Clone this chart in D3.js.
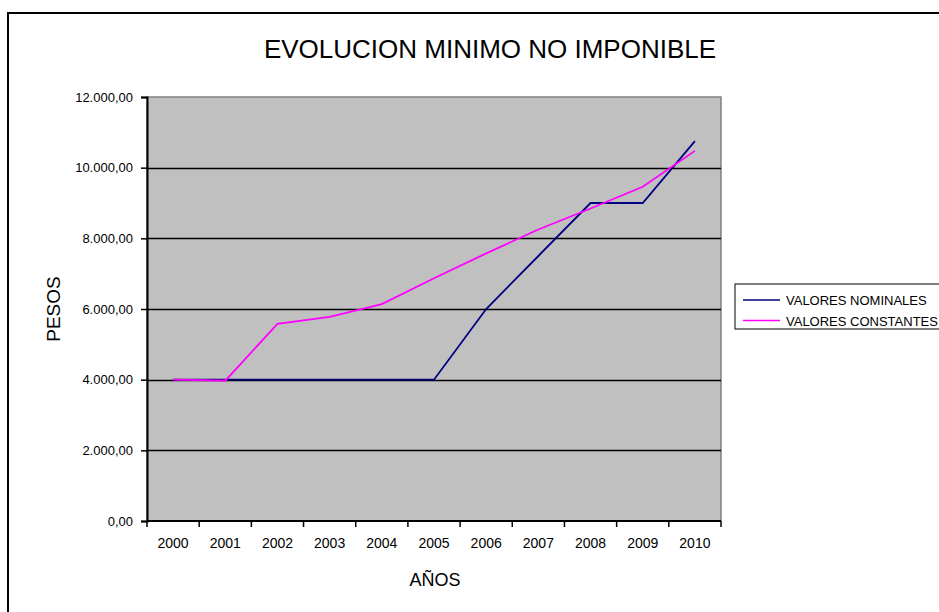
<!DOCTYPE html>
<html>
<head>
<meta charset="utf-8">
<script src="https://cdn.jsdelivr.net/npm/d3@7"></script>
<style>
  body { margin: 0; background: #fff; }
  svg { display: block; font-family: "Liberation Sans", Arial, sans-serif; }
</style>
</head>
<body>
<svg width="939" height="612"></svg>
<script>
var years = ["2000", "2001", "2002", "2003", "2004", "2005", "2006", "2007", "2008", "2009", "2010"];
var nominales = [4000, 4000, 4000, 4000, 4000, 4000, 6000, 7500, 9000, 9000, 10750];
var constantes = [4000, 3970, 5580, 5780, 6140, 6870, 7575, 8250, 8845, 9460, 10475];
var yTicks = [0, 2000, 4000, 6000, 8000, 10000, 12000];
var seriesNames = ["VALORES NOMINALES", "VALORES CONSTANTES"];
var seriesColors = ["#000080", "#ff00ff"];

var svg = d3.select("svg");

var plotL = 147, plotR = 721, plotT = 97, plotB = 521;

var x = d3.scaleBand().domain(years).range([plotL, plotR]);
var y = d3.scaleLinear().domain([0, 12000]).range([plotB, plotT]);

var fmt = function(v) {
  var s = d3.format(",.2f")(v);
  return s.replace(/,/g, "#").replace(".", ",").replace(/#/g, ".");
};

// outer chart frame
svg.append("rect")
  .attr("x", 8).attr("y", 13)
  .attr("width", 1000).attr("height", 1000)
  .attr("fill", "none").attr("stroke", "#000").attr("stroke-width", 2);

// plot area
svg.append("rect")
  .attr("x", plotL).attr("y", plotT)
  .attr("width", plotR - plotL).attr("height", plotB - plotT)
  .attr("fill", "#c0c0c0").attr("stroke", "#808080").attr("stroke-width", 1.5);

// gridlines
svg.append("g").selectAll("line")
  .data(yTicks.filter(function(d) { return d > 0 && d < 12000; }))
  .join("line")
  .attr("x1", plotL).attr("x2", plotR)
  .attr("y1", function(d) { return Math.round(y(d)) + 0.5; })
  .attr("y2", function(d) { return Math.round(y(d)) + 0.5; })
  .attr("stroke", "#000").attr("stroke-width", 1.5);

// y axis
var yAxis = svg.append("g")
  .attr("transform", "translate(" + plotL + ",0)")
  .call(d3.axisLeft(y).tickValues(yTicks).tickFormat(fmt).tickSize(6).tickPadding(8));
yAxis.select(".domain").attr("stroke", "#000").attr("stroke-width", 2);
yAxis.selectAll(".tick line").attr("stroke", "#000").attr("stroke-width", 1.5);
yAxis.selectAll("text").attr("font-size", 13).attr("fill", "#000")
  .attr("font-family", "'Liberation Sans', Arial, sans-serif");

// x axis: ticks between categories
var bounds = years.map(function(d) { return x(d); }).concat([plotR]);
svg.append("line")
  .attr("x1", plotL).attr("x2", plotR)
  .attr("y1", plotB).attr("y2", plotB)
  .attr("stroke", "#000").attr("stroke-width", 2);
svg.append("g").selectAll("line")
  .data(bounds)
  .join("line")
  .attr("x1", function(d) { return d; }).attr("x2", function(d) { return d; })
  .attr("y1", plotB).attr("y2", plotB + 6)
  .attr("stroke", "#000").attr("stroke-width", 1.5);
svg.append("g").selectAll("text")
  .data(years)
  .join("text")
  .attr("x", function(d) { return x(d) + x.bandwidth() / 2; })
  .attr("y", 548)
  .attr("text-anchor", "middle")
  .attr("font-size", 14)
  .text(function(d) { return d; });

// lines
var line = d3.line()
  .x(function(d, i) { return x(years[i]) + x.bandwidth() / 2; })
  .y(function(d) { return y(d); });

[nominales, constantes].forEach(function(vals, i) {
  svg.append("path")
    .datum(vals)
    .attr("d", line)
    .attr("fill", "none")
    .attr("stroke", seriesColors[i])
    .attr("stroke-width", 1.8);
});

// titles
svg.append("text")
  .attr("x", 490).attr("y", 58)
  .attr("text-anchor", "middle")
  .attr("font-size", 26)
  .text("EVOLUCION MINIMO NO IMPONIBLE");

svg.append("text")
  .attr("transform", "translate(60,309) rotate(-90)")
  .attr("text-anchor", "middle")
  .attr("font-size", 19)
  .text("PESOS");

svg.append("text")
  .attr("x", 435).attr("y", 586)
  .attr("text-anchor", "middle")
  .attr("font-size", 18)
  .text("AÑOS");

// legend
var legend = svg.append("g");
legend.append("rect")
  .attr("x", 735).attr("y", 284)
  .attr("width", 210).attr("height", 45)
  .attr("fill", "#fff").attr("stroke", "#000").attr("stroke-width", 1);
var rows = legend.selectAll("g.row")
  .data(seriesNames)
  .join("g")
  .attr("class", "row")
  .attr("transform", function(d, i) { return "translate(0," + (300 + i * 20.5) + ")"; });
rows.append("line")
  .attr("x1", 743).attr("x2", 780)
  .attr("stroke", function(d, i) { return seriesColors[i]; })
  .attr("stroke-width", 1.5);
rows.append("text")
  .attr("x", 786).attr("y", 5)
  .attr("font-size", 13)
  .text(function(d) { return d; });
</script>
</body>
</html>
